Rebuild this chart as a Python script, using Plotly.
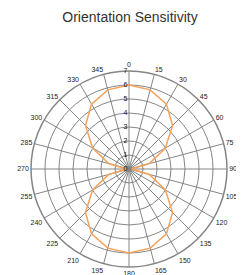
import plotly.graph_objects as go

angles = [0, 15, 30, 45, 60, 75, 90, 105, 120, 135, 150, 165, 180,
          195, 210, 225, 240, 255, 270, 285, 300, 315, 330, 345, 360]
sensitivity = [6.0, 5.85, 5.35, 4.4, 3.0, 1.5, 0.2, 1.5, 3.0, 4.4, 5.35, 5.85, 6.0,
               5.85, 5.35, 4.4, 3.0, 1.5, 0.2, 1.5, 3.0, 4.4, 5.35, 5.85, 6.0]
angle_ticks = list(range(0, 360, 15))
radial_ticks = [0, 1, 2, 3, 4, 5, 6, 7]

W, H = 236, 267
cx, cy, rad = 121, 161, 98

fig = go.Figure()
fig.add_trace(go.Scatterpolar(
    r=sensitivity, theta=angles, mode="lines",
    line=dict(color="#f5a35a", width=1.5), showlegend=False,
))

fig.update_layout(
    width=W, height=H,
    margin=dict(l=0, r=0, t=0, b=0),
    paper_bgcolor="white",
    font=dict(family="Liberation Sans, Arial, sans-serif", color="#333"),
    title=dict(text="Orientation Sensitivity", x=122 / W, xanchor="center",
               y=1 - 9 / H, yanchor="middle",
               font=dict(size=14, color="#333")),
    polar=dict(
        domain=dict(x=[(cx - rad) / W, (cx + rad) / W],
                    y=[(H - cy - rad) / H, (H - cy + rad) / H]),
        bgcolor="white",
        angularaxis=dict(
            rotation=90, direction="clockwise",
            tickmode="array", tickvals=angle_ticks, ticktext=[str(a) for a in angle_ticks],
            tickfont=dict(size=7, color="#222"),
            showgrid=True, gridcolor="#858585", gridwidth=1,
            showline=True, linecolor="#858585", linewidth=1.5,
            ticks="",
        ),
        radialaxis=dict(
            range=[0, 7], angle=90, tickangle=90,
            tickmode="array", tickvals=radial_ticks, ticktext=[str(v) for v in radial_ticks],
            tickfont=dict(size=7, color="#111"),
            showgrid=True, gridcolor="#858585", gridwidth=1,
            showline=False, ticks="", side="counterclockwise",
        ),
    ),
)

fig.write_html("out.html")
